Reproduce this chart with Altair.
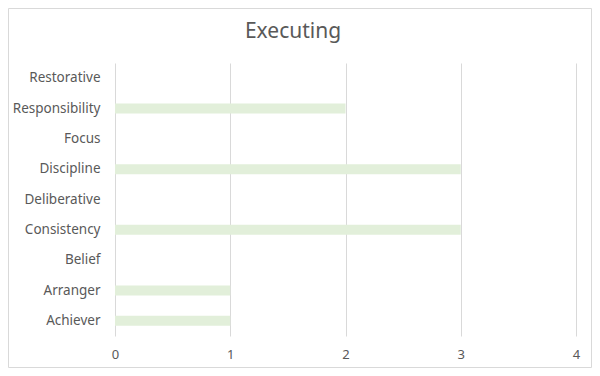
import altair as alt
import pandas as pd

categories = ["Restorative", "Responsibility", "Focus", "Discipline", "Deliberative",
              "Consistency", "Belief", "Arranger", "Achiever"]
values = [0, 2, 0, 3, 0, 3, 0, 1, 1]
x_ticks = [0, 1, 2, 3, 4]
title_text = "Executing"

df = pd.DataFrame({"theme": categories, "count": values})
tdf = pd.DataFrame({"t": [title_text]})

FONT = "Noto Sans"
TXT = "#595959"

bars = alt.Chart(df).mark_bar(size=10, color="#e2efda").encode(
    x=alt.X("count:Q", scale=alt.Scale(domain=[0, 4], nice=False),
            axis=alt.Axis(values=x_ticks, format="d", title=None, domain=False, ticks=False,
                          grid=True, gridColor="#d9d9d9", gridWidth=1, labelFlush=False,
                          labelPadding=12, labelFontSize=13, labelColor=TXT, labelFont=FONT)),
    y=alt.Y("theme:N", sort=categories,
            axis=alt.Axis(title=None, domain=False, ticks=False, labelPadding=15,
                          labelFontSize=13.5, labelColor=TXT, labelFont=FONT)),
)

title = alt.Chart(tdf).mark_text(fontSize=21, font=FONT, color=TXT, align="center",
                                 baseline="middle").encode(
    text="t:N", x=alt.value(178), y=alt.value(-31)
)

border = alt.Chart(tdf).mark_rect(fill=None, stroke="#d9d9d9", strokeWidth=1).encode(
    x=alt.value(-106.5), x2=alt.value(476.5), y=alt.value(-54.5), y2=alt.value(304.5)
)

chart = alt.layer(bars, title, border).properties(
    width=461, height=273,
    autosize=alt.AutoSizeParams(type="none"),
    padding={"left": 107, "top": 55, "right": 16, "bottom": 32},
).configure_view(stroke=None)

chart.save("out.html", embed_options={"renderer": "svg", "actions": False})
